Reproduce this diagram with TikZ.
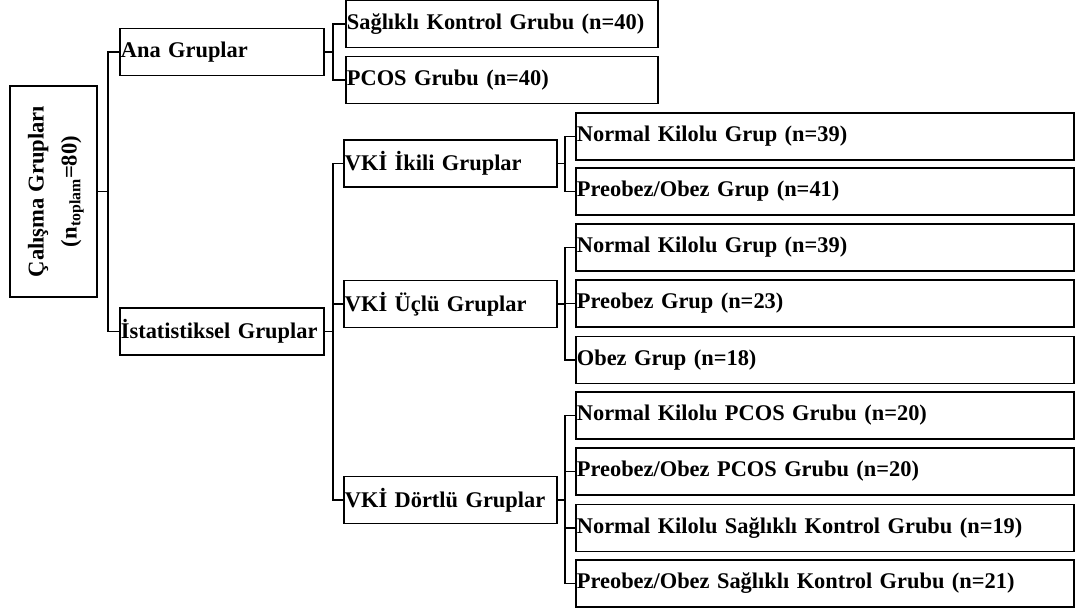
\documentclass[tikz,border=0pt]{standalone}
\usepackage{fontspec}
\setmainfont{Liberation Serif}
\usepackage{tikz}

\begin{document}
\begin{tikzpicture}[x=1pt,y=-1pt,
    box/.style={draw, line width=1.8pt, anchor=west, align=left, inner xsep=1pt,
        minimum height=47pt, font=\fontsize{22.4}{26}\selectfont\bfseries},
    link/.style={line width=1.8pt}]
\useasboundingbox (0,0) rectangle (1075,611);

% root
\node[draw, line width=1.8pt, minimum width=87pt, minimum height=211pt, inner sep=0pt,
    font=\fontsize{22.6}{33}\selectfont\bfseries] (calisma) at (53.5,191.5)
    {\rotatebox{90}{\begin{tabular}{@{}c@{}}Çalışma Grupları\\(n\textsubscript{toplam}=80)\end{tabular}}};

% level 1
\node[box, text width=202pt] (ana) at (119,52) {Ana Gruplar};
\node[box, text width=202pt] (istat) at (119,331.5) {İstatistiksel Gruplar};

% level 2
\node[box, text width=310pt] (saglikli) at (345,24) {Sağlıklı Kontrol Grubu (n=40)};
\node[box, text width=310pt] (pcos) at (345,80) {PCOS Grubu (n=40)};
\node[box, text width=211pt] (ikili) at (343,163.5) {VKİ İkili Gruplar};
\node[box, text width=211pt] (uclu) at (343,304) {VKİ Üçlü Gruplar};
\node[box, text width=211pt] (dortlu) at (343,500) {VKİ Dörtlü Gruplar};

% level 3
\node[box, text width=496pt] (ikiNormal) at (575,136.5) {Normal Kilolu Grup (n=39)};
\node[box, text width=496pt] (ikiObez) at (575,191.5) {Preobez/Obez Grup (n=41)};
\node[box, text width=496pt] (ucNormal) at (575,247.5) {Normal Kilolu Grup (n=39)};
\node[box, text width=496pt] (ucPreobez) at (575,303.5) {Preobez Grup (n=23)};
\node[box, text width=496pt] (ucObez) at (575,360) {Obez Grup (n=18)};
\node[box, text width=496pt] (dortNormalP) at (575,415.5) {Normal Kilolu PCOS Grubu (n=20)};
\node[box, text width=496pt] (dortObezP) at (575,471.5) {Preobez/Obez PCOS Grubu (n=20)};
\node[box, text width=496pt] (dortNormalS) at (575,528) {Normal Kilolu Sağlıklı Kontrol Grubu (n=19)};
\node[box, text width=496pt] (dortObezS) at (575,583.5) {Preobez/Obez Sağlıklı Kontrol Grubu (n=21)};

% connectors
\draw[link] (calisma.east) -| ([xshift=-11pt]ana.west) -- (ana.west);
\draw[link] (calisma.east) -| ([xshift=-11pt]istat.west) -- (istat.west);

\draw[link] (ana.east) -| ([xshift=-12pt]saglikli.west) -- (saglikli.west);
\draw[link] (ana.east) -| ([xshift=-12pt]pcos.west) -- (pcos.west);

\draw[link] (istat.east) -| ([xshift=-10pt]ikili.west) -- (ikili.west);
\draw[link] (istat.east) -| ([xshift=-10pt]uclu.west) -- (uclu.west);
\draw[link] (istat.east) -| ([xshift=-10pt]dortlu.west) -- (dortlu.west);

\draw[link] (ikili.east) -| ([xshift=-10pt]ikiNormal.west) -- (ikiNormal.west);
\draw[link] (ikili.east) -| ([xshift=-10pt]ikiObez.west) -- (ikiObez.west);

\draw[link] (uclu.east) -| ([xshift=-10pt]ucNormal.west) -- (ucNormal.west);
\draw[link] (uclu.east) -| ([xshift=-10pt]ucPreobez.west) -- (ucPreobez.west);
\draw[link] (uclu.east) -| ([xshift=-10pt]ucObez.west) -- (ucObez.west);

\draw[link] (dortlu.east) -| ([xshift=-10pt]dortNormalP.west) -- (dortNormalP.west);
\draw[link] (dortlu.east) -| ([xshift=-10pt]dortObezP.west) -- (dortObezP.west);
\draw[link] (dortlu.east) -| ([xshift=-10pt]dortNormalS.west) -- (dortNormalS.west);
\draw[link] (dortlu.east) -| ([xshift=-10pt]dortObezS.west) -- (dortObezS.west);
\end{tikzpicture}
\end{document}
